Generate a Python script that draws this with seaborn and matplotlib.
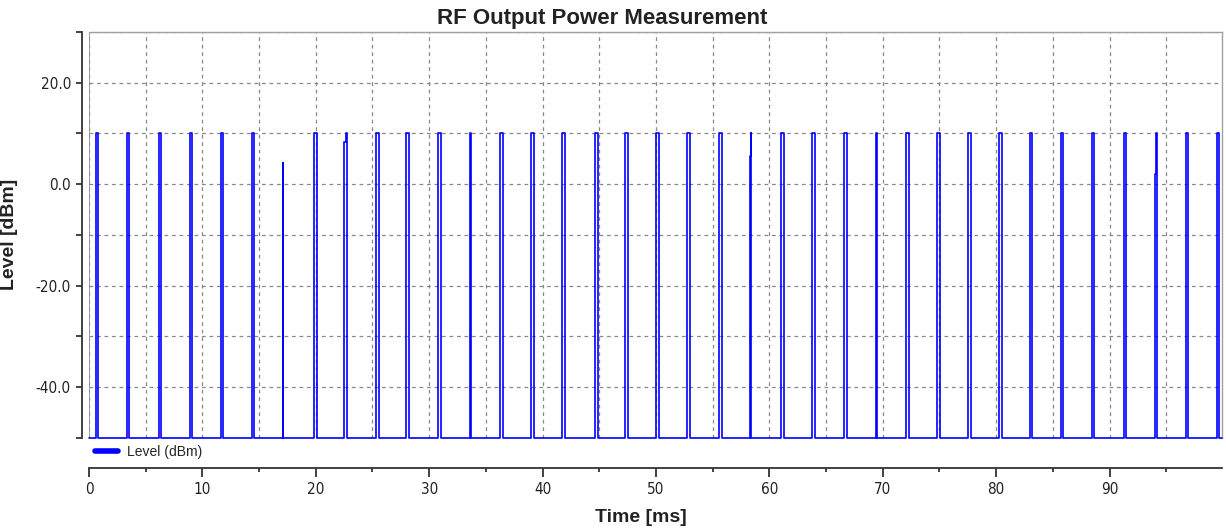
import numpy as np
import pandas as pd
import matplotlib
matplotlib.use("Agg")
import matplotlib.pyplot as plt
import seaborn as sns
from matplotlib import font_manager
from matplotlib.font_manager import FontProperties
from matplotlib.lines import Line2D
from matplotlib.ticker import MultipleLocator, FuncFormatter

# Pulse centres (ms), widths (ms) and plateau levels (dBm)
pulse_center = [0.70, 3.44, 6.26, 8.99, 11.72, 14.45, 17.09, 20.00, 22.64, 25.46,
                28.11, 30.93, 33.66, 36.39, 39.12, 41.85, 44.76, 47.40, 50.13, 52.86,
                55.68, 58.33, 61.15, 63.88, 66.70, 69.43, 72.16, 74.89, 77.62, 80.35,
                83.08, 85.81, 88.55, 91.37, 94.10, 96.83, 99.56]
pulse_width = [0.24, 0.24, 0.24, 0.24, 0.24, 0.24, 0.05, 0.24, 0.22, 0.24,
               0.24, 0.24, 0.08, 0.24, 0.24, 0.24, 0.24, 0.24, 0.24, 0.24,
               0.24, 0.14, 0.24, 0.24, 0.24, 0.08, 0.24, 0.24, 0.24, 0.24,
               0.24, 0.24, 0.24, 0.24, 0.16, 0.24, 0.24]
pulse_levels = [(10.0,), (10.0,), (10.0,), (10.0,), (10.0,), (10.0,), (4.1,), (10.0,), (8.3, 10.0), (10.0,),
                (10.0,), (10.0,), (10.0,), (10.0,), (10.0,), (10.0,), (10.0,), (10.0,), (10.0,), (10.0,),
                (10.0,), (-24.0, 5.5, 10.0), (10.0,), (10.0,), (10.0,), (10.0,), (10.0,), (10.0,), (10.0,), (10.0,),
                (10.0,), (10.0,), (10.0,), (10.0,), (2.0, 10.0), (10.0,), (10.0,)]
floor_level = -50.0
t_start, t_end = 0.0, 99.9

# Build the step trace from the pulse table
t, lev = [t_start], [floor_level]
for c, w, levels in zip(pulse_center, pulse_width, pulse_levels):
    t0 = c - w / 2
    step = w / len(levels)
    t.append(t0); lev.append(floor_level)
    for i, v in enumerate(levels):
        t += [t0 + i * step, t0 + (i + 1) * step]
        lev += [v, v]
    t.append(c + w / 2); lev.append(floor_level)
t.append(t_end); lev.append(floor_level)
trace = pd.DataFrame({"time": t, "level": lev})

sns.set_style("white")
plt.rcParams["font.family"] = ["Liberation Sans", "DejaVu Sans"]

# a condensed face for the tick numbers, if one is installed
tick_font = FontProperties(family="Liberation Sans", size=11)
for f in font_manager.fontManager.ttflist:
    if ("Narrow" in f.name or "Condensed" in f.name or f.stretch in ("condensed", "semi-condensed")) \
            and f.style == "normal" and f.weight in (400, "normal", "regular"):
        tick_font = FontProperties(fname=f.fname, size=11)
        break

fig = plt.figure(figsize=(12.26, 5.29), dpi=100)
ax = fig.add_axes([0.0726, 0.1726, 0.924, 0.767])

sns.lineplot(data=trace, x="time", y="level", sort=False, estimator=None,
             color="#0000ff", lw=1.2, ax=ax, zorder=3, clip_on=False)

ax.set_xlim(t_start, t_end)
ax.set_ylim(-50, 30)

# grid
ax.xaxis.set_major_locator(MultipleLocator(10))
ax.xaxis.set_minor_locator(MultipleLocator(5))
ax.yaxis.set_major_locator(MultipleLocator(10))
ax.grid(True, which="both", axis="x", color="#888888", ls=(0, (3, 3)), lw=0.9)
ax.grid(True, which="major", axis="y", color="#888888", ls=(0, (3, 3)), lw=0.9)
ax.axvline(0, color="#909090", lw=1.2, zorder=2)

# spines (outward offsets are in points: 7 px -> 5 pt, 30 px -> 21.6 pt)
for s in ["top", "right"]:
    ax.spines[s].set_color("#a0a0a0")
    ax.spines[s].set_linewidth(1.0)
ax.spines["left"].set_position(("outward", 5))
ax.spines["bottom"].set_position(("outward", 21.6))
for s in ["left", "bottom"]:
    ax.spines[s].set_color("#333333")
    ax.spines[s].set_linewidth(1.3)

ax.yaxis.set_major_formatter(FuncFormatter(lambda v, p: f"{v:.1f}" if v % 20 == 0 else ""))
ax.tick_params(bottom=True, left=True, which="both")
ax.tick_params(axis="y", which="major", direction="out", length=4, width=1.3,
               color="#333333", pad=4)
ax.tick_params(axis="x", which="major", direction="out", length=6.5, width=1.3,
               color="#333333", pad=4)
ax.tick_params(axis="x", which="minor", direction="out", length=3, width=1.3, color="#333333")
for lab in ax.get_xticklabels() + ax.get_yticklabels():
    lab.set_fontproperties(tick_font)
    lab.set_color("#222222")

ax.set_xlabel("Time [ms]", fontsize=14, fontweight="bold", color="#222222")
ax.xaxis.set_label_coords(0.487, -0.175)
ax.set_ylabel("Level [dBm]", fontsize=14, fontweight="bold", color="#222222")
ax.yaxis.set_label_coords(-0.063, 0.5)

fig.text(0.491, 0.965, "RF Output Power Measurement", fontsize=16, fontweight="bold",
         ha="center", va="center", color="#222222")

handle = Line2D([0], [0], color="#0000ff", lw=4)
ax.legend([handle], ["Level (dBm)"], loc="upper left", bbox_to_anchor=(0.0, -0.005),
          frameon=False, fontsize=10, handlelength=1.7, handletextpad=0.6,
          borderaxespad=0.2, borderpad=0.2)

fig.savefig("out.png", dpi=100)
